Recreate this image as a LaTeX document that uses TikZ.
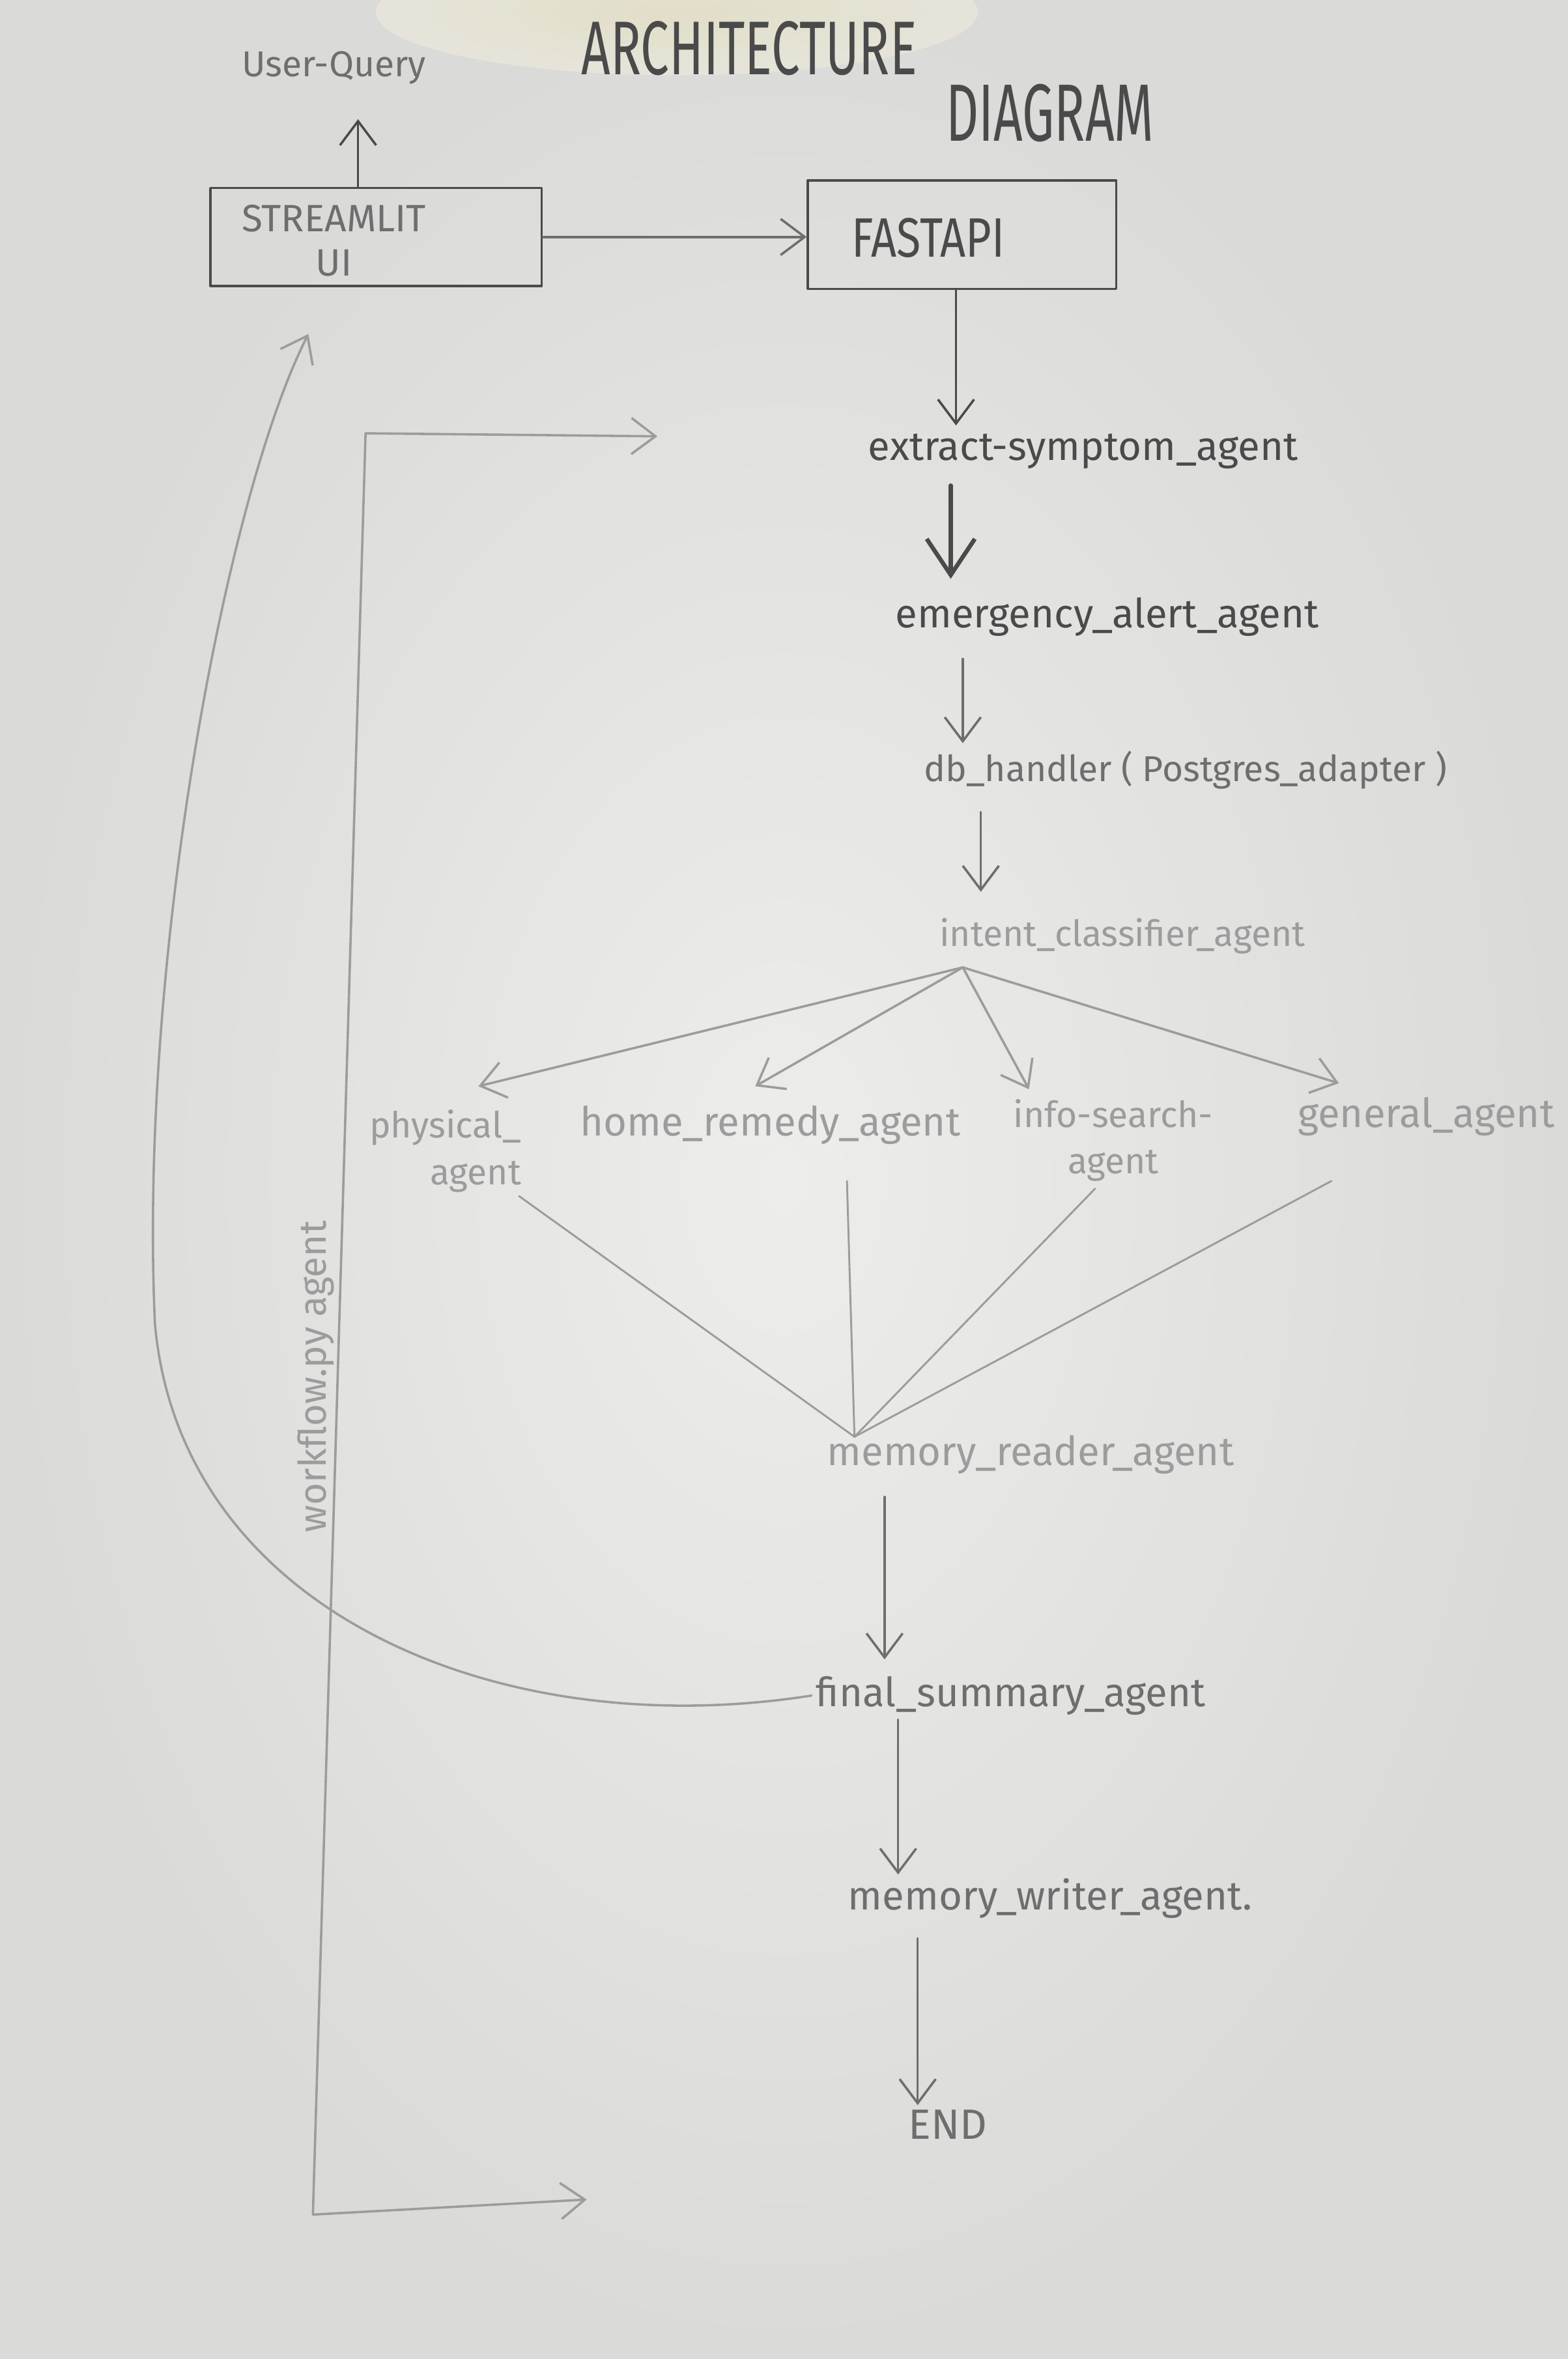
\documentclass[tikz,border=0pt]{standalone}
\usepackage{fontspec}
\setmainfont{Fira Sans}
\usetikzlibrary{arrows.meta,calc}
\definecolor{pdark}{HTML}{4A4A4A}
\definecolor{pmid}{HTML}{6E6E6E}
\definecolor{plight}{HTML}{9C9C9C}
\definecolor{paperin}{HTML}{EDEDEB}
\definecolor{paperout}{HTML}{DADAD8}
\definecolor{stain}{HTML}{E4DFC4}
\begin{document}
\begin{tikzpicture}[x=0.025cm,y=-0.025cm,
  pen/.style={line width=1.1pt, line cap=round, line join=round},
  arr/.style={pen, -{Straight Barb[length=4mm,width=6mm]}},
  box/.style={draw=pdark, pen, minimum width=#1, inner sep=0pt},
  lbl/.style={inner sep=2pt, font=\fontsize{19}{22}\selectfont},
  caps/.style={inner sep=2pt, font=\fontsize{20}{24}\selectfont},
]
% paper
\useasboundingbox (0,0) rectangle (1042,1568);
\shade[inner color=paperin, outer color=paperout] (0,0) rectangle (1042,1568);
\shade[inner color=stain, outer color=paperin!60!stain, opacity=0.8] (450,8) ellipse (200 and 42);

% titles
\node[caps, text=pdark, font=\fontsize{24}{28}\selectfont] (t1) at (498,32) {\scalebox{1}[1.5]{ARCHITECTURE}};
\node[caps, text=pdark, font=\fontsize{24}{28}\selectfont] (t2) at (698,75) {\scalebox{1}[1.6]{DIAGRAM}};

% top boxes
\node[lbl, text=pmid, font=\fontsize{17}{20}\selectfont] (uq) at (222,45) {User-Query};
\node[box=5.5cm, minimum height=1.625cm] (stream) at (250,157.5) {};
\node[caps, text=pmid, align=center, font=\fontsize{18}{21}\selectfont] (sttext) at (222,160) {STREAMLIT\\UI};
\node[box=5.125cm, minimum height=1.8cm] (fast) at (639.5,156) {};
\node[caps, text=pdark, font=\fontsize{21}{24}\selectfont] (fttext) at (617,158) {\scalebox{1}[1.25]{FASTAPI}};

% agents
\node[lbl, text=pdark] (ext) at (720,300) {extract-symptom\_agent};
\node[lbl, text=pdark] (emg) at (736,410) {emergency\_alert\_agent};
\node[lbl, text=pmid, font=\fontsize{17}{20}\selectfont] (db) at (788,512) {db\_handler ( Postgres\_adapter )};
\node[lbl, text=plight, font=\fontsize{17}{20}\selectfont] (intent) at (746,622) {intent\_classifier\_agent};
\node[lbl, text=plight, align=right, font=\fontsize{17}{22}\selectfont] (phys) at (296,765) {physical\_\\agent};
\node[lbl, text=plight] (home) at (512,748) {home\_remedy\_agent};
\node[lbl, text=plight, align=center, font=\fontsize{17}{22}\selectfont] (info) at (740,758) {info-search-\\agent};
\node[lbl, text=plight] (gen) at (948,742) {general\_agent};
\node[lbl, text=plight] (memr) at (685,967) {memory\_reader\_agent};
\node[lbl, text=pmid] (fin) at (672,1127) {final\_summary\_agent};
\node[lbl, text=pmid] (memw) at (698,1262) {memory\_writer\_agent.};
\node[caps, text=pmid] (endn) at (630,1412) {END};
\node[lbl, text=plight, rotate=90, font=\fontsize{18}{22}\selectfont] (wf) at (210,915) {workflow.py agent};

% named points
\coordinate (bp) at (640,643);
\coordinate (cv) at (568,955);
\coordinate (a1) at (318,722);
\coordinate (a2) at (502,722);
\coordinate (a3) at (684,724);
\coordinate (a4) at (890,720);
\coordinate (s1) at (345,795);
\coordinate (s2) at (563,785);
\coordinate (s3) at (728,790);
\coordinate (s4) at (885,785);
\coordinate (lt) at (243,288);
\coordinate (ltend) at (437,290);
\coordinate (lb) at (208,1472);
\coordinate (lbend) at (390,1462);
\coordinate (cvtop) at (205,222);

% top connectors
\draw[arr, draw=pdark] ($(stream.north)+(-12,0)$) -- ($(stream.north)+(-12,-45)$);
\draw[arr, draw=pmid] (stream.east) -- (stream.east -| fast.west);
\draw[arr, draw=pdark] ($(fast.south)+(-4,0)$) -- ($(fast.south)+(-4,90)$);
\draw[draw=pdark, pen, line width=2pt, -{Straight Barb[length=6mm,width=8mm]}] ($(ext.south)+(-88,8)$) -- ($(ext.south)+(-88,70)$);
\draw[arr, draw=pmid] ($(emg.south)+(-96,12)$) -- ($(emg.south)+(-96,68)$);
\draw[arr, draw=pmid] ($(db.south)+(-136,12)$) -- ($(db.south)+(-136,65)$);

% branches
\foreach \t in {a1,a2,a3,a4}
  \draw[arr, draw=plight] (bp) -- (\t);
\foreach \s in {s1,s2,s3,s4}
  \draw[pen, draw=plight, line width=0.9pt] (\s) -- (cv);

% bottom chain
\draw[arr, draw=pmid] ($(memr.south)+(-97,12)$) -- ($(memr.south)+(-97,120)$);
\draw[arr, draw=pmid] ($(fin.south)+(-75,0)$) -- ($(fin.south)+(-75,103)$);
\draw[arr, draw=pmid] ($(memw.south)+(-88,10)$) -- (endn.north -| 610,0);

% loop back to Streamlit
\draw[arr, draw=plight] (fin.west) .. controls (330,1160) and (120,1070) .. (103,880)
   .. controls (92,640) and (150,330) .. (cvtop);

% workflow bracket
\draw[arr, draw=plight] (lt) -- (ltend);
\draw[pen, draw=plight] (lt) -- (lb);
\draw[arr, draw=plight] (lb) -- (lbend);
\end{tikzpicture}
\end{document}
